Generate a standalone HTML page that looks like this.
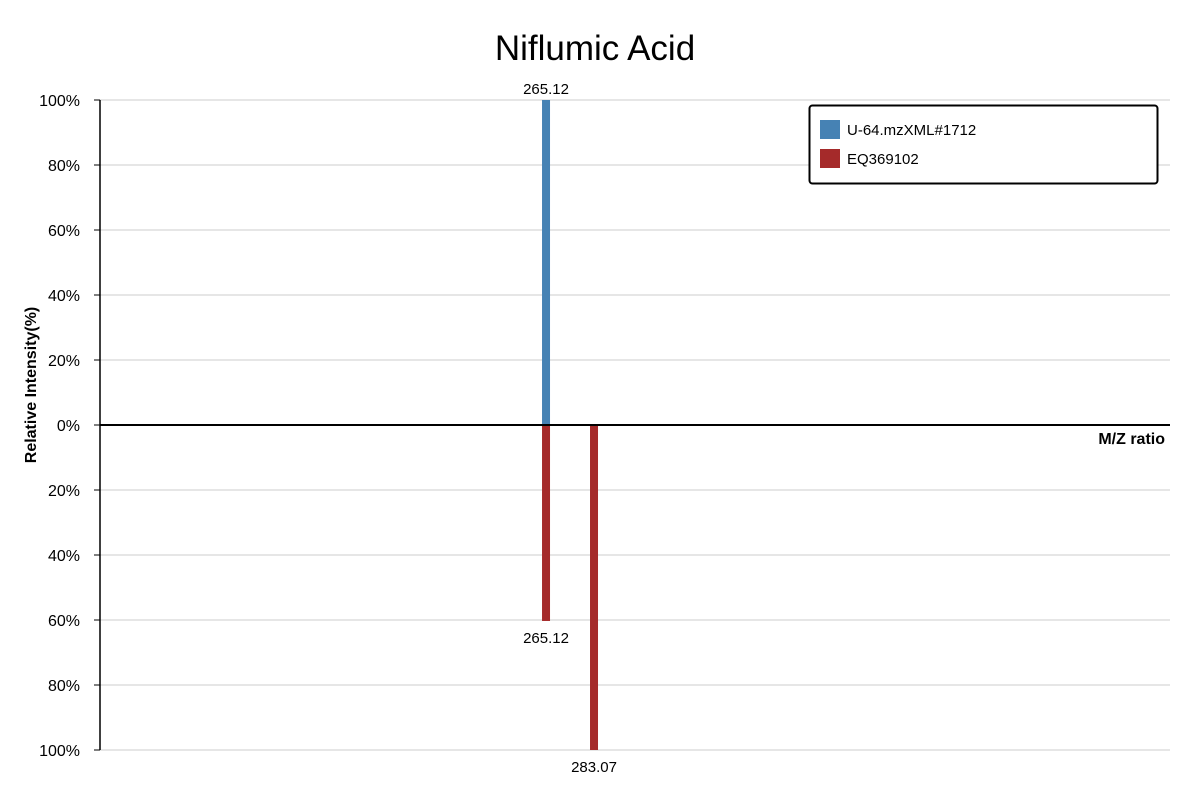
<!DOCTYPE html>
<html><head><meta charset="utf-8"><style>
body{margin:0;background:#fff;font-family:"Liberation Sans",sans-serif}
svg text{font-family:"Liberation Sans",sans-serif}
</style></head><body>
<svg id="chart" width="1200" height="800" xmlns="http://www.w3.org/2000/svg">
<text x="595" y="60" font-size="35" text-anchor="middle" fill="#000">Niflumic Acid</text>
<g id="grid"></g>
<g id="bars"></g>
<g id="axes"></g>
<text transform="translate(36,385) rotate(-90)" font-size="16" font-weight="bold" text-anchor="middle">Relative Intensity(%)</text>
<text x="1165" y="444" font-size="16" font-weight="bold" text-anchor="end">M/Z ratio</text>
<g>
<rect x="809.5" y="105.5" width="348" height="78" rx="3" fill="#fff" stroke="#000" stroke-width="2"/>
<rect x="820" y="120" width="20" height="19" fill="#4682b4"/>
<text x="847" y="135" font-size="15">U-64.mzXML#1712</text>
<rect x="820" y="149" width="20" height="19" fill="#a52a2a"/>
<text x="847" y="164" font-size="15">EQ369102</text>
</g>
</svg>
<script>
const yTicks=[100,80,60,40,20,0,-20,-40,-60,-80,-100];
const topMz=[265.12];
const topIntensity=[100];
const bottomMz=[265.12,283.07];
const bottomIntensity=[60.3,100];
const ns="http://www.w3.org/2000/svg";
const X0=100,X1=1170,Y0=425,PX=3.25;
const mzMin=98.3,mzMax=498.5;
const xs=m=>X0+(m-mzMin)/(mzMax-mzMin)*(X1-X0);
const ys=v=>Y0-v*PX;
function mk(tag,attrs,parent){const e=document.createElementNS(ns,tag);for(const k in attrs)e.setAttribute(k,attrs[k]);parent.appendChild(e);return e;}
const grid=document.getElementById('grid'),axes=document.getElementById('axes'),bars=document.getElementById('bars');
yTicks.forEach(t=>{
 const y=ys(t);
 if(t!==0){const l=mk('line',{x1:X0,x2:X1,y1:y,y2:y,stroke:'#ddd','stroke-width':1.5},grid);
 
 }
 const tk=mk('line',{x1:X0-6,x2:X0,y1:y,y2:y,stroke:'#000'},axes);
 
 
 const tx=mk('text',{x:X0-20,y:y+6,'font-size':16,'text-anchor':'end'},axes);
 tx.textContent=Math.abs(t)+'%';
 
 
});
const ya=mk('line',{x1:X0,x2:X0,y1:ys(100),y2:ys(-100),stroke:'#000','stroke-width':1.5},axes);


const xa=mk('line',{x1:X0,x2:X1,y1:Y0,y2:Y0,stroke:'#000','stroke-width':2},axes);


topMz.forEach((m,i)=>{
 const x=xs(m),y=ys(topIntensity[i]);
 const r=mk('rect',{x:x-4,y:y,width:8,height:Y0-y,fill:'#4682b4'},bars);
 
 
 const t=mk('text',{x:x,y:y-6,'font-size':15,'text-anchor':'middle'},bars);
 t.textContent=m.toFixed(2);
 
 
});
bottomMz.forEach((m,i)=>{
 const x=xs(m),y=ys(-bottomIntensity[i]);
 const r=mk('rect',{x:x-4,y:Y0,width:8,height:y-Y0,fill:'#a52a2a'},bars);
 
 
 const t=mk('text',{x:x,y:y+22,'font-size':15,'text-anchor':'middle'},bars);
 t.textContent=m.toFixed(2);
 
 
});
</script>
</body></html>
